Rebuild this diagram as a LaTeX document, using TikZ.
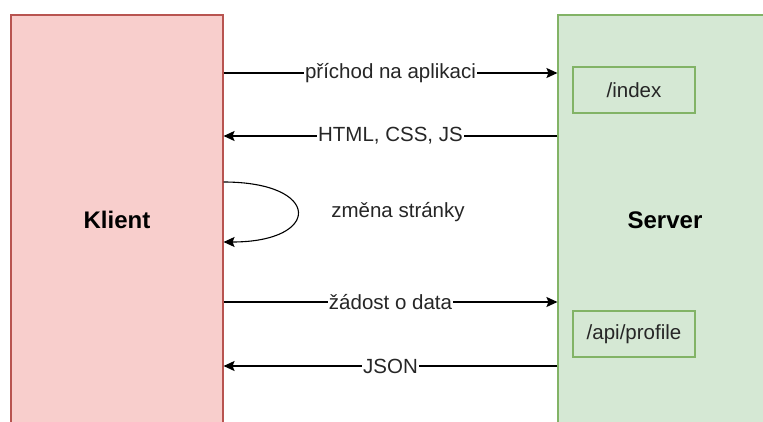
\documentclass[tikz,border=0pt]{standalone}
\usepackage{fontspec}
\setmainfont{Liberation Sans}
\usetikzlibrary{positioning,arrows.meta}

\definecolor{klientfill}{HTML}{F8CECC}
\definecolor{klientline}{HTML}{B85450}
\definecolor{serverfill}{HTML}{D5E8D4}
\definecolor{serverline}{HTML}{82B366}

\begin{document}
\begin{tikzpicture}[x=1pt, y=-1pt,
    txt/.style={font=\fontsize{20.5}{24}\selectfont, text=black!85},
    side/.style={draw, line width=1.1pt, minimum width=#1, minimum height=410pt, inner sep=0pt,
        font=\fontsize{24}{28}\selectfont\bfseries},
    endpoint/.style={draw=serverline, line width=1.3pt, fill=serverfill, minimum width=122pt,
        minimum height=46pt, inner sep=0pt, txt},
    msg/.style={line width=1.4pt, -{Stealth[length=11pt, width=10pt, inset=2pt]}},
    lbl/.style={fill=white, inner sep=1pt, txt}]
    \useasboundingbox (0,0) rectangle (763,421);
    \clip (0,0) rectangle (763,421);
				\node[side=212pt, fill=klientfill, draw=klientline] (klient) at (117, 220) {Klient};
				\node[side=210pt, fill=serverfill, draw=serverline] (server) at (663, 220) {};
				\node[font=\fontsize{24}{28}\selectfont\bfseries] (srvname) at (665, 220) {Server};
				\node[endpoint] (index) at (634, 90) {/index};
				\node[endpoint] (api) at (634, 334) {/api/profile};
				% zpravy mezi klientem a serverem
				\draw[msg] (klient.east |- 0,73) -- node[lbl] {příchod na aplikaci} (server.west |- 0,73);
				\draw[msg] (server.west |- 0,136) -- node[lbl] {HTML, CSS, JS} (klient.east |- 0,136);
				\draw[msg] (klient.east |- 0,302) -- node[lbl] {žádost o data} (server.west |- 0,302);
				\draw[msg] (server.west |- 0,366) -- node[lbl] {JSON} (klient.east |- 0,366);
				% zmena stranky
				\draw[msg, line width=1.1pt] (klient.east |- 0,182) .. controls (322,182) and (322,242) .. (klient.east |- 0,242);
				\node[txt] (zmena) at (398, 212) {změna stránky};
\end{tikzpicture}
\end{document}
